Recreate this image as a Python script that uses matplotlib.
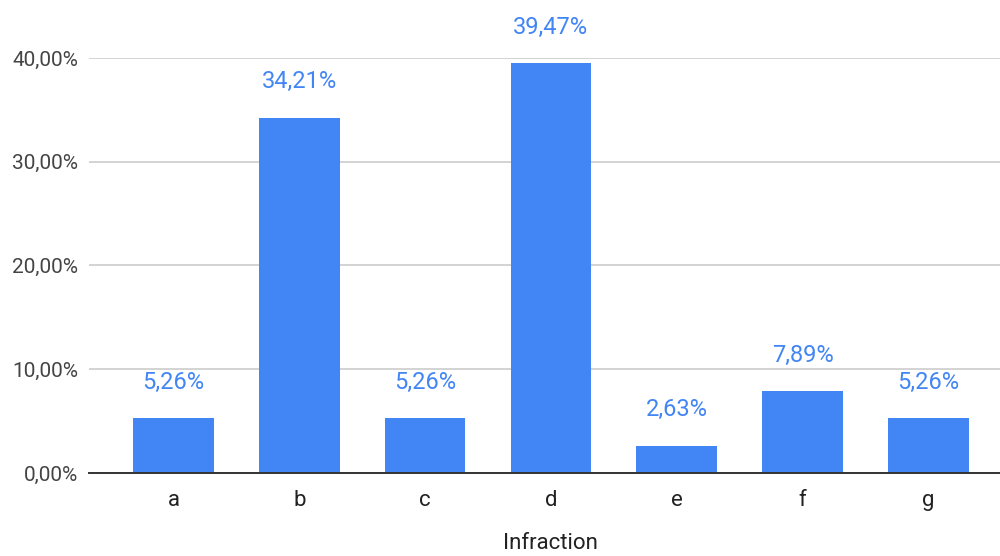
import matplotlib
matplotlib.use('Agg')
import matplotlib.pyplot as plt
from matplotlib.ticker import FuncFormatter

plt.rcParams['font.family'] = ['Roboto', 'DejaVu Sans']

# Répartition des infractions
categories = ['a', 'b', 'c', 'd', 'e', 'f', 'g']
parts = [5.26, 34.21, 5.26, 39.47, 2.63, 7.89, 5.26]
graduations = [0, 10, 20, 30, 40]

bleu = '#4285F4'
gris_texte = '#444444'

fig = plt.figure(figsize=(10, 5.56), dpi=100)
ax = fig.add_axes([0.089, 0.1493, 0.911, 0.7464])

x = range(len(categories))
ax.bar(x, parts, width=0.64, color=bleu, zorder=3)

# Valeurs au-dessus des barres
for xi, v in zip(x, parts):
    ax.annotate(f"{v:.2f}".replace('.', ',') + '%', (xi, v),
                xytext=(0, 26), textcoords='offset points',
                ha='center', va='center', fontsize=17, color=bleu,
                annotation_clip=False)

ax.set_xlim(-0.672, 6.57)
ax.set_ylim(0, 40)
ax.set_yticks(graduations)
ax.yaxis.set_major_formatter(FuncFormatter(lambda v, p: f"{v:.2f}".replace('.', ',') + '%'))
ax.set_xticks(list(x))
ax.set_xticklabels(categories)

ax.grid(axis='y', color='#cccccc', linewidth=1.2, zorder=0)
for s in ['top', 'right', 'left']:
    ax.spines[s].set_visible(False)
ax.spines['bottom'].set_color('#333333')
ax.spines['bottom'].set_linewidth(1.4)
ax.spines['bottom'].set_zorder(4)

ax.tick_params(axis='y', length=0, labelsize=15, colors=gris_texte, pad=8)
ax.tick_params(axis='x', length=0, labelsize=16, pad=12, labelcolor='#222222')

# Titre de l'axe collé au bas de la figure
fig.text(0.55, 0.004, 'Infraction', ha='center', va='bottom',
         fontsize=16, color='#222222')

fig.savefig('out.png', dpi=100)
